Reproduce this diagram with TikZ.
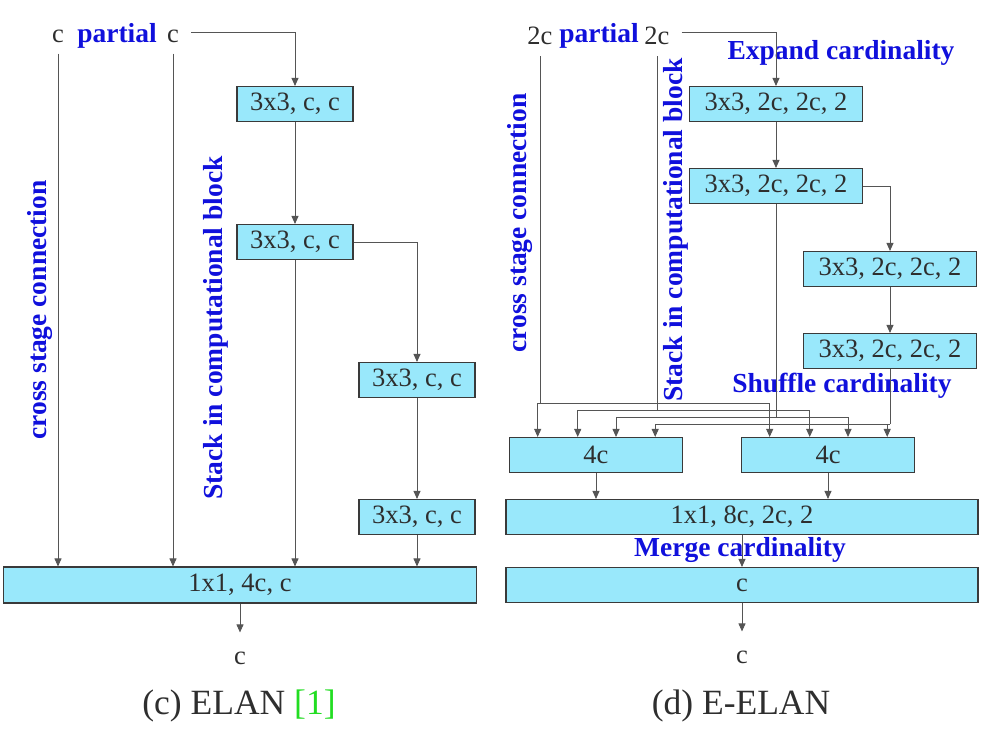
\documentclass[tikz,border=0pt]{standalone}
\usepackage{fontspec}
\setmainfont{Liberation Serif}
\usetikzlibrary{arrows.meta}
\usetikzlibrary{calc}

\definecolor{boxfill}{HTML}{99E8FB}
\definecolor{boxline}{HTML}{3A3A3A}
\definecolor{linegray}{HTML}{555555}
\definecolor{txt}{HTML}{2E2E2E}
\definecolor{lblue}{HTML}{1010DC}
\definecolor{refgreen}{HTML}{22DD22}

\begin{document}
\begin{tikzpicture}[x=1pt,y=-1pt,font=\fontsize{26.5}{30}\selectfont,
    blk/.style={draw=boxline,fill=boxfill,line width=1.1pt,minimum height=35pt,inner sep=0pt,text=txt},
    io/.style={text=txt,inner xsep=12pt,inner ysep=11pt},
    tag/.style={text=lblue,font=\fontsize{27.5}{30}\selectfont\bfseries,inner sep=0pt},
    capt/.style={text=txt,font=\fontsize{35.5}{40}\selectfont},
    link/.style={draw=linegray,line width=0.9pt},
    arr/.style={link,-{Triangle[length=8pt,width=7pt]}}]
	\useasboundingbox (0,0) rectangle (989,733);

	% (c) ELAN
	\node[io]  (c1) at (58,36) {c};
	\node[tag] (p1) at (117,36) {partial};
	\node[io]  (c2) at (173,36) {c};
	\begin{scope}[every node/.style={blk,minimum width=116pt}]
		\node (b1) at (295,104) {3x3, c, c};
		\node (b2) at (295,242) {3x3, c, c};
		\node (b3) at (417,380) {3x3, c, c};
		\node (b4) at (417,517) {3x3, c, c};
	\end{scope}
	\node[blk,minimum width=473pt,minimum height=36pt] (o1) at (240,585) {1x1, 4c, c};
	\node[io] (oc1) at (240,658) {c};
	\node[tag,rotate=90] (l1) at (40,310) {cross stage connection};
	\node[tag,rotate=90] (l2) at (216,328) {Stack in computational block};
	\node[capt] (cap1) at (239,706) {(c) ELAN \textcolor{refgreen}{[1]}};

	\draw[arr] (c1) -- (c1 |- o1.north);
	\draw[arr] (c2) -- (c2 |- o1.north);
	\draw[arr] ([yshift=4pt]c2.east) -| (b1);
	\draw[arr] (b1) -- (b2);
	\draw[arr] (b2) -- (b2 |- o1.north);
	\draw[arr] (b2) -| (b3);
	\draw[arr] (b3) -- (b4);
	\draw[arr] (b4) -- (b4 |- o1.north);
	\draw[arr,shorten >=8pt] (o1) -- (oc1);

	% (d) E-ELAN
	\node[io]  (x1) at (540,36) {2c};
	\node[tag] (p2) at (599,36) {partial};
	\node[io]  (x2) at (657,36) {2c};
	\node[tag] (t1) at (841,53) {Expand cardinality};
	\node[tag] (t2) at (842,386) {Shuffle cardinality};
	\node[tag] (t3) at (740,550) {Merge cardinality};
	\node[tag,rotate=90] (l3) at (520,223) {cross stage connection};
	\node[tag,rotate=90] (l4) at (676,230) {Stack in computational block};
	\begin{scope}[every node/.style={blk,minimum width=173pt}]
		\node (e1) at (776,104) {3x3, 2c, 2c, 2};
		\node (e2) at (776,186) {3x3, 2c, 2c, 2};
		\node (e3) at (890,269) {3x3, 2c, 2c, 2};
		\node (e4) at (890,351) {3x3, 2c, 2c, 2};
		\node (f1) at (596,455) {4c};
		\node (f2) at (828,455) {4c};
		\node[minimum width=472pt] (g1) at (742,517) {1x1, 8c, 2c, 2};
		\node[minimum width=472pt] (g2) at (742,585) {c};
	\end{scope}
	\node[io] (oc2) at (742,657) {c};
	\node[capt] (cap2) at (741,706) {(d) E-ELAN};

	\draw[arr] ([yshift=4pt]x2.east) -| (e1);
	\draw[arr] (e1) -- (e2);
	\draw[arr] (e2) -| (e3);
	\draw[arr] (e3) -- (e4);
	% shuffle: every branch feeds both groups
	\foreach \s/\h/\p [count=\i] in {x1/403/0.165, x2/410/0.395, e2/417/0.615, e4/424/0.84} {
		\coordinate (s\i) at (\s |- 0,\h);
		\draw[link] (\s) -- (s\i);
		\draw[arr] (s\i) -| ($(f1.north west)!\p!(f1.north east)$);
		\draw[arr] (s\i) -| ($(f2.north west)!\p!(f2.north east)$);
	}
	\draw[arr] (f1) -- (f1 |- g1.north);
	\draw[arr] (f2) -- (f2 |- g1.north);
	\draw[arr] (g1) -- (g2);
	\draw[arr,shorten >=8pt] (g2) -- (oc2);
\end{tikzpicture}
\end{document}
